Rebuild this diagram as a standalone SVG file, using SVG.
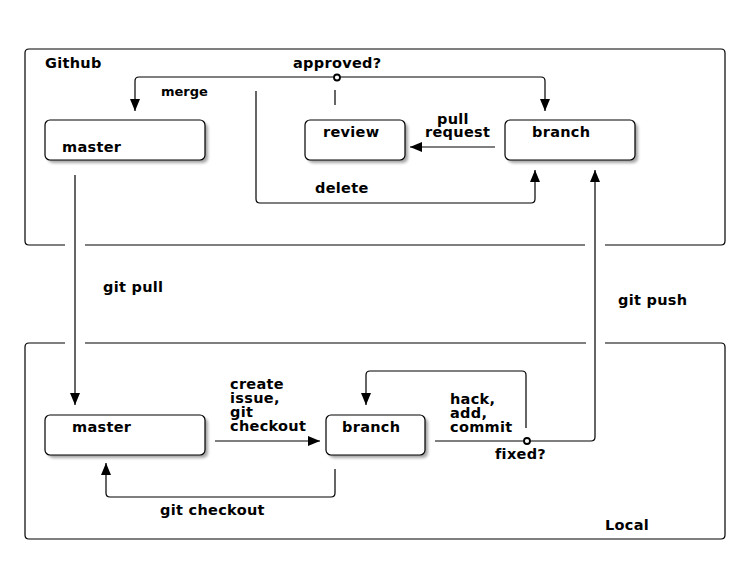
<svg xmlns="http://www.w3.org/2000/svg" width="750" height="574" viewBox="0 0 750 574">
<style>
.t{font-family:"DejaVu Sans","Liberation Sans",sans-serif;font-weight:bold;font-size:14.5px;letter-spacing:0.3px;fill:#000}
.s{font-size:13px;letter-spacing:0}
.ln{fill:none;stroke:#000;stroke-width:1.2}
.box{fill:#fff;stroke:#000;stroke-width:1.2}
.sh{fill:#000;opacity:0.35;filter:url(#blur)}
</style>
<defs>
<filter id="blur" x="-20%" y="-20%" width="140%" height="140%"><feGaussianBlur stdDeviation="1.5"/></filter>
<marker id="ar" markerUnits="userSpaceOnUse" viewBox="0 0 12 10" refX="12" refY="5" markerWidth="12" markerHeight="10" orient="auto"><path d="M0,0 L12,5 L0,10 z" fill="#000"/></marker>
</defs>
<rect width="750" height="574" fill="#fff"/>
<g id="github">
<path class="ln" d="M65,245 H29 Q25,245 25,241 V53 Q25,49 29,49 H721 Q725,49 725,53 V241 Q725,245 721,245 H605 M585,245 H85"/>
<text class="t" x="45" y="68">Github</text>
</g>
<g id="local">
<path class="ln" d="M65,343 H29 Q25,343 25,347 V535 Q25,539 29,539 H721 Q725,539 725,535 V347 Q725,343 721,343 H605 M586,343 H85"/>
<text class="t" x="605" y="530">Local</text>
</g>
<g id="gh-master">
<rect class="sh" x="48" y="123" width="160" height="40" rx="5"/>
<rect class="box" x="45" y="120" width="160" height="40" rx="5"/>
<text class="t" x="62" y="152">master</text>
</g>
<g id="gh-review">
<rect class="sh" x="308" y="123" width="100" height="40" rx="5"/>
<rect class="box" x="305" y="120" width="100" height="40" rx="5"/>
<text class="t" x="323" y="137">review</text>
</g>
<g id="gh-branch">
<rect class="sh" x="508" y="123" width="130" height="40" rx="5"/>
<rect class="box" x="505" y="120" width="130" height="40" rx="5"/>
<text class="t" x="532" y="137">branch</text>
</g>
<g id="lc-master">
<rect class="sh" x="48" y="418" width="160" height="40" rx="5"/>
<rect class="box" x="45" y="415" width="160" height="40" rx="5"/>
<text class="t" x="72" y="432">master</text>
</g>
<g id="lc-branch">
<rect class="sh" x="329" y="418" width="99" height="40" rx="5"/>
<rect class="box" x="326" y="415" width="99" height="40" rx="5"/>
<text class="t" x="342" y="432">branch</text>
</g>
<g id="connectors">
<path class="ln" marker-end="url(#ar)" d="M336,77 H139 Q135,77 135,81 V111"/>
<path class="ln" marker-end="url(#ar)" d="M336,77 H541 Q545,77 545,81 V111"/>
<path class="ln" d="M335,90 V105"/>
<path class="ln" marker-end="url(#ar)" d="M256,91 V199 Q256,203 260,203 H531 Q535,203 535,199 V170"/>
<path class="ln" marker-end="url(#ar)" d="M495,147 H410"/>
<path class="ln" marker-end="url(#ar)" d="M75,175 V405"/>
<path class="ln" marker-end="url(#ar)" d="M435,441 H591 Q595,441 595,437 V170"/>
<path class="ln" marker-end="url(#ar)" d="M526,428 V375 Q526,371 522,371 H370 Q366,371 366,375 V405"/>
<path class="ln" marker-end="url(#ar)" d="M215,441 H320"/>
<path class="ln" marker-end="url(#ar)" d="M335,469 V493 Q335,497 331,497 H110 Q106,497 106,493 V463"/>
<circle cx="337" cy="77.5" r="3" fill="#fff" stroke="#000" stroke-width="1.8"/>
<circle cx="527" cy="441" r="3" fill="#fff" stroke="#000" stroke-width="1.8"/>
<text class="t" x="293" y="68">approved?</text>
<text class="t s" x="161" y="96">merge</text>
<text class="t" x="437" y="124">pull</text>
<text class="t" x="425" y="137">request</text>
<text class="t" x="315" y="193">delete</text>
<text class="t" x="103" y="292">git pull</text>
<text class="t" x="618" y="305">git push</text>
<text class="t" x="230" y="389">create</text>
<text class="t" x="230" y="403">issue,</text>
<text class="t" x="230" y="417">git</text>
<text class="t" x="230" y="431">checkout</text>
<text class="t" x="450" y="404">hack,</text>
<text class="t" x="450" y="418">add,</text>
<text class="t" x="450" y="432">commit</text>
<text class="t" x="495" y="459">fixed?</text>
<text class="t" x="160" y="515">git checkout</text>
</g>
</svg>
